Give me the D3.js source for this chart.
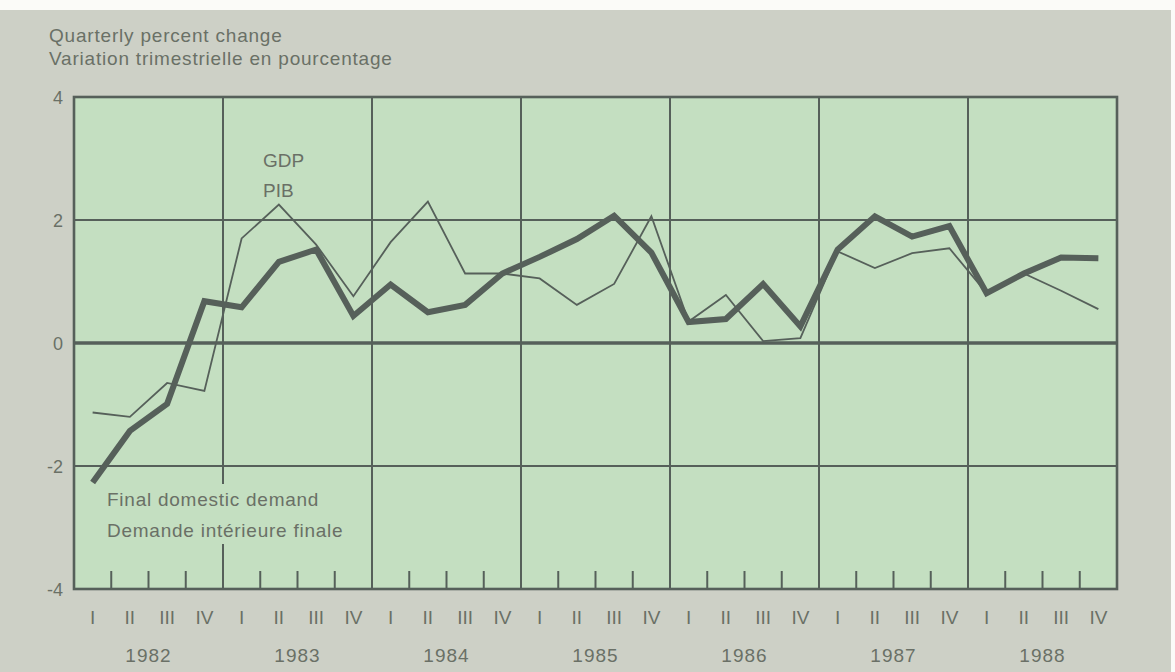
<!DOCTYPE html>
<html>
<head>
<meta charset="utf-8">
<script src="https://cdn.jsdelivr.net/npm/d3@7"></script>
<style>
  html, body { margin: 0; padding: 0; background: #ffffff; }
  svg { display: block; }
  text { font-family: "Liberation Sans", Arial, sans-serif; fill: #6a7066; }
</style>
</head>
<body>
<svg id="chart" width="1175" height="672"></svg>
<script>
const titleLines = ["Quarterly percent change", "Variation trimestrielle en pourcentage"];
const years = ["1982", "1983", "1984", "1985", "1986", "1987", "1988"];
const quarters = ["I", "II", "III", "IV"];
const yTicks = [-4, -2, 0, 2, 4];
const gdpLabel = ["GDP", "PIB"];
const fddLabel = ["Final domestic demand", "Demande intérieure finale"];

// Final domestic demand (thick line), quarterly % change, 1982 Q1 .. 1988 Q4
const fdd = [-2.27, -1.43, -0.99, 0.68, 0.58, 1.32, 1.52, 0.44,
             0.95, 0.50, 0.62, 1.13, 1.40, 1.69, 2.07, 1.47,
             0.34, 0.39, 0.96, 0.27, 1.52, 2.06, 1.73, 1.90,
             0.81, 1.13, 1.39, 1.38];
// GDP (thin line)
const gdp = [-1.13, -1.20, -0.65, -0.78, 1.70, 2.25, 1.60, 0.76,
             1.64, 2.30, 1.13, 1.13, 1.05, 0.62, 0.96, 2.06,
             0.35, 0.78, 0.03, 0.08, 1.49, 1.22, 1.46, 1.54,
             0.81, 1.13, 0.85, 0.55];

const W = 1175, H = 672;
const svg = d3.select("#chart");
const lineCol = "#56605a";
const plotFill = "#c4dfc1";

// page background
svg.append("rect").attr("x", 0).attr("y", 0).attr("width", W).attr("height", H).attr("fill", "#fbfbf8");
svg.append("rect").attr("x", 0).attr("y", 10).attr("width", 1171).attr("height", H - 10).attr("fill", "#cdd0c6");

const nQ = years.length * quarters.length;
const x = d3.scaleLinear().domain([0, nQ]).range([74, 1117]);
const y = d3.scaleLinear().domain([-4, 4]).range([589, 97]);

// plot area
svg.append("rect")
  .attr("x", x(0)).attr("y", y(4))
  .attr("width", x(nQ) - x(0)).attr("height", y(-4) - y(4))
  .attr("fill", plotFill);

// horizontal grid
const g = svg.append("g");
yTicks.filter(v => v !== 0 && v !== -4 && v !== 4).forEach(v => {
  g.append("line").attr("x1", x(0)).attr("x2", x(nQ)).attr("y1", y(v)).attr("y2", y(v))
    .attr("stroke", lineCol).attr("stroke-width", 2);
});
// vertical year boundaries
d3.range(1, years.length).forEach(k => {
  g.append("line").attr("x1", x(k * 4)).attr("x2", x(k * 4)).attr("y1", y(4)).attr("y2", y(-4))
    .attr("stroke", lineCol).attr("stroke-width", 2);
});
// quarter ticks along bottom
d3.range(nQ).filter(i => i % 4 !== 0).forEach(i => {
  g.append("line").attr("x1", x(i)).attr("x2", x(i)).attr("y1", y(-4) - 18).attr("y2", y(-4))
    .attr("stroke", lineCol).attr("stroke-width", 2);
});
// zero line
g.append("line").attr("x1", x(0)).attr("x2", x(nQ)).attr("y1", y(0)).attr("y2", y(0))
  .attr("stroke", lineCol).attr("stroke-width", 3.5);

// frame
svg.append("rect")
  .attr("x", x(0)).attr("y", y(4))
  .attr("width", x(nQ) - x(0)).attr("height", y(-4) - y(4))
  .attr("fill", "none").attr("stroke", lineCol).attr("stroke-width", 2.6);

// legend mask for final domestic demand label
svg.append("rect").attr("x", 100).attr("y", 484).attr("width", 250).attr("height", 60).attr("fill", plotFill);

// series
const line = d3.line().x((d, i) => x(i + 0.5)).y(d => y(d));
svg.append("path").datum(gdp).attr("d", line)
  .attr("fill", "none").attr("stroke", lineCol).attr("stroke-width", 1.8).attr("stroke-linejoin", "miter");
svg.append("path").datum(fdd).attr("d", line)
  .attr("fill", "none").attr("stroke", lineCol).attr("stroke-width", 6).attr("stroke-linejoin", "miter");

// y labels
svg.selectAll(".ylab").data(yTicks).join("text")
  .attr("class", "ylab")
  .attr("x", 63).attr("y", d => y(d) + 7)
  .attr("text-anchor", "end")
  .style("font-size", "18px")
  .text(d => d);

// x labels: quarters
const qData = d3.range(nQ).map(i => ({ i, label: quarters[i % 4] }));
svg.selectAll(".qlab").data(qData).join("text")
  .attr("class", "qlab")
  .attr("x", d => x(d.i + 0.5)).attr("y", 624)
  .attr("text-anchor", "middle")
  .style("font-size", "19px")
  .text(d => d.label);

// x labels: years
svg.selectAll(".yrlab").data(years).join("text")
  .attr("class", "yrlab")
  .attr("x", (d, k) => x(k * 4 + 2)).attr("y", 662)
  .attr("text-anchor", "middle")
  .style("font-size", "19px")
  .style("letter-spacing", "1px")
  .text(d => d);

// title
svg.selectAll(".title").data(titleLines).join("text")
  .attr("class", "title")
  .attr("x", 49).attr("y", (d, i) => 42 + i * 23)
  .style("font-size", "19px")
  .style("letter-spacing", "0.8px")
  .text(d => d);

// series labels
svg.selectAll(".gdplab").data(gdpLabel).join("text")
  .attr("class", "gdplab")
  .attr("x", 263).attr("y", (d, i) => 167 + i * 30)
  .style("font-size", "19px")
  .text(d => d);

svg.selectAll(".fddlab").data(fddLabel).join("text")
  .attr("class", "fddlab")
  .attr("x", 107).attr("y", (d, i) => 506 + i * 31)
  .style("font-size", "19px")
  .style("letter-spacing", "0.75px")
  .text(d => d);
</script>
</body>
</html>
